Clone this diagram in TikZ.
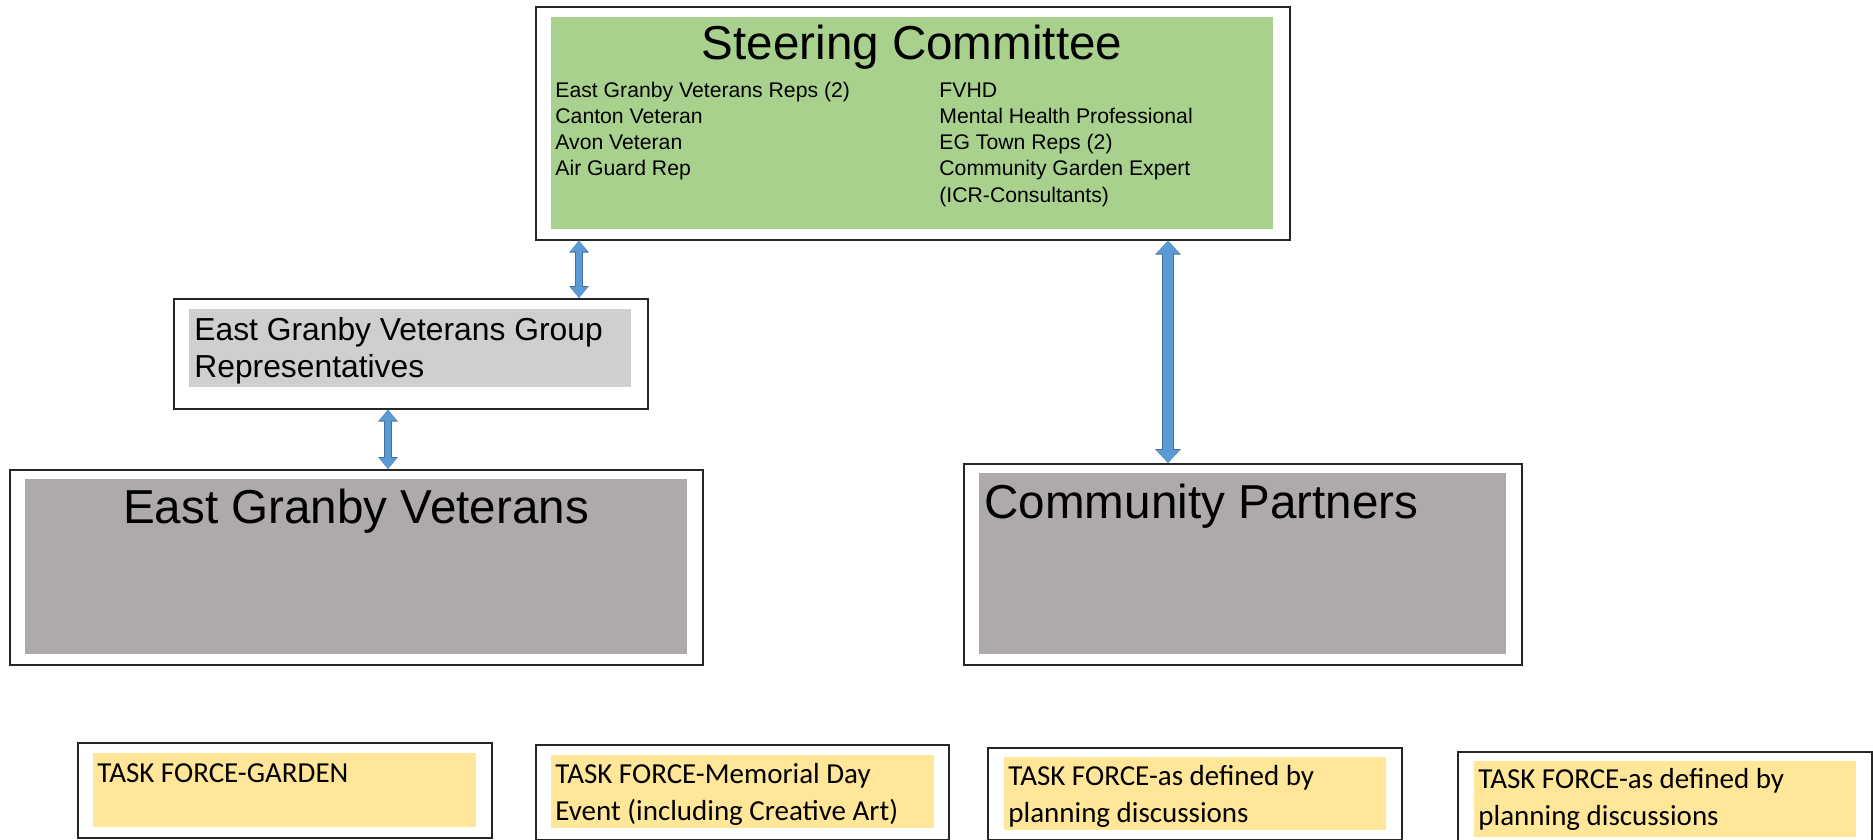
\documentclass[tikz,border=0pt]{standalone}
\usepackage{fontspec}
\setmainfont{Liberation Sans}
\newfontfamily\calibri{Carlito}
\usetikzlibrary{arrows.meta}
\definecolor{steergreen}{HTML}{A9D18E}
\definecolor{repgray}{HTML}{D0CECE}
\definecolor{biggray}{HTML}{AEAAAA}
\definecolor{taskyellow}{HTML}{FFE699}
\definecolor{flowblue}{HTML}{5B9BD5}
\definecolor{flowedge}{HTML}{41719C}
\tikzset{
  frame/.style={draw=black!85, line width=0.8pt, fill=white, inner sep=0, anchor=north west},
  panel/.style={fill=#1, inner sep=0, anchor=north west},
  words/.style={inner sep=0, anchor=base west, align=left},
  headline/.style={inner sep=0, anchor=base, font=\fontsize{23.8}{28}\selectfont},
  member/.style={words, font=\fontsize{10.6}{13.15}\selectfont},
  task/.style={words, font=\calibri\fontsize{14.5}{18.5}\selectfont},
  flow/.style={draw=flowblue, line width=3.4pt, {Triangle[length=5.5pt,width=8pt]}-{Triangle[length=5.5pt,width=8pt]},
    preaction={draw=flowedge, line width=4.4pt, {Triangle[length=6pt,width=9.5pt]}-{Triangle[length=6pt,width=9.5pt]}}},
  bigflow/.style={draw=flowblue, line width=5pt, {Triangle[length=6.5pt,width=11pt]}-{Triangle[length=6.5pt,width=11pt]},
    preaction={draw=flowedge, line width=6pt, {Triangle[length=7pt,width=12.5pt]}-{Triangle[length=7pt,width=12.5pt]}}}
}
\begin{document}
\begin{tikzpicture}[x=0.5pt, y=-0.5pt]
\useasboundingbox (0,0) rectangle (1873,840);

% steering committee (multi-line texts sit on their last baseline)
\node[frame, minimum width=377pt, minimum height=116.5pt] (steer) at (535,6){};
\node[panel=steergreen, minimum width=361pt, minimum height=106pt] (steerfill) at (551,17){};
\node[headline] (steertitle) at (912,60){Steering Committee};
\node[member] (steerleft) at (555,176){East Granby Veterans Reps (2)\\Canton Veteran\\Avon Veteran\\Air Guard Rep};
\node[member] (steerright) at (939,202.2){FVHD\\Mental Health Professional\\EG Town Reps (2)\\Community Garden Expert\\(ICR-Consultants)};

% group representatives
\node[frame, minimum width=237pt, minimum height=55pt] (reps) at (173,298){};
\node[panel=repgray, minimum width=221pt, minimum height=39pt] (repsfill) at (189,309){};
\node[words, font=\fontsize{15.9}{18.5}\selectfont] (repstext) at (194,377){East Granby Veterans Group\\Representatives};

% veterans and partners
\node[frame, minimum width=346.5pt, minimum height=97.5pt] (vets) at (9,469){};
\node[panel=biggray, minimum width=331pt, minimum height=87.5pt] (vetsfill) at (25,479){};
\node[headline] (vetstitle) at (356,523){East Granby Veterans};

\node[frame, minimum width=279pt, minimum height=100.5pt] (partners) at (963,463){};
\node[panel=biggray, minimum width=263.5pt, minimum height=90.5pt] (partnersfill) at (979,473){};
\node[headline, anchor=base west] (partnerstitle) at (984,518){Community Partners};

% arrows
\draw[flow] (579,0 |- steer.south) -- (579,0 |- reps.north);
\draw[flow] (388,0 |- reps.south) -- (388,0 |- vets.north);
\draw[bigflow] (1168,0 |- steer.south) -- (1168,0 |- partners.north);

% task forces
\node[frame, minimum width=207pt, minimum height=47.5pt] (tfA) at (77,742){};
\node[panel=taskyellow, minimum width=191.5pt, minimum height=37pt] (tfAfill) at (93,753){};
\node[task] (tfAtext) at (97,782){TASK FORCE-GARDEN};

\node[frame, minimum width=206.5pt, minimum height=47.5pt] (tfB) at (535,744){};
\node[panel=taskyellow, minimum width=191.5pt, minimum height=36.5pt] (tfBfill) at (551,755){};
\node[task] (tfBtext) at (555,820){TASK FORCE-Memorial Day\\Event (including Creative Art)};

\node[frame, minimum width=207pt, minimum height=46pt] (tfC) at (987,747){};
\node[panel=taskyellow, minimum width=191pt, minimum height=36.5pt] (tfCfill) at (1004,757){};
\node[task] (tfCtext) at (1008,822){TASK FORCE-as defined by\\planning discussions};

\node[frame, minimum width=207pt, minimum height=50pt] (tfD) at (1457,751){};
\node[panel=taskyellow, minimum width=191pt, minimum height=38pt] (tfDfill) at (1474,761){};
\node[task] (tfDtext) at (1478,825){TASK FORCE-as defined by\\planning discussions};

\end{tikzpicture}
\end{document}
